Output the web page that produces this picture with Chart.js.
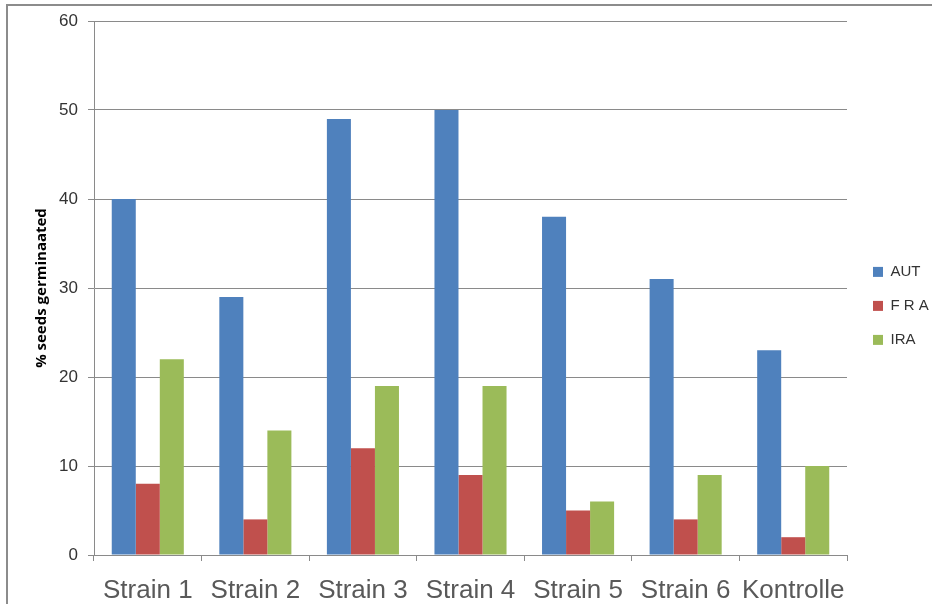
<!DOCTYPE html>
<html>
<head>
<meta charset="utf-8">
<script src="https://cdn.jsdelivr.net/npm/chart.js@4/dist/chart.umd.min.js"></script>
<style>
  html, body { margin: 0; padding: 0; background: #fff; overflow: hidden; }
  #wrap { position: relative; width: 932px; height: 604px; }
  #germChart { display: block; }
  #frame { position: absolute; left: 6px; top: 4px; right: 0; bottom: 0;
           border-left: 2px solid #8c8c8c; border-top: 2px solid #8c8c8c; pointer-events: none; }
</style>
</head>
<body>
<div id="wrap">
  <canvas id="germChart" width="932" height="604"></canvas>
  <div id="frame"></div>
</div>
<script>
const strains = ['Strain 1', 'Strain 2', 'Strain 3', 'Strain 4', 'Strain 5', 'Strain 6', 'Kontrolle'];
const autValues = [40, 29, 49, 50, 38, 31, 23];
const fraValues = [8, 4, 12, 9, 5, 4, 2];
const iraValues = [22, 14, 19, 19, 6, 9, 10];
const yTicks = [0, 10, 20, 30, 40, 50, 60];

const gridGray = '#8a8a8a';
const sans = '"Liberation Sans", Arial, sans-serif';

const ctx = document.getElementById('germChart').getContext('2d');
const germChart = new Chart(ctx, {
    type: 'bar',
    data: {
        labels: strains,
        datasets: [
            { label: 'AUT', data: autValues, backgroundColor: '#4F81BD' },
            { label: 'F R A', data: fraValues, backgroundColor: '#C0504D' },
            { label: 'IRA', data: iraValues, backgroundColor: '#9BBB59' }
        ]
    },
    options: {
        responsive: false,
        animation: false,
        layout: { padding: { top: 21, right: 0, bottom: 0, left: 8 } },
        datasets: { bar: { categoryPercentage: 0.67, barPercentage: 1.0 } },
        plugins: {
            tooltip: { enabled: false },
            legend: {
                position: 'right',
                align: 'start',
                maxWidth: 78,
                // blank title only used to push the items down to mid height
                title: { display: true, text: '', font: { size: 12 }, padding: { top: 0, bottom: 210 } },
                labels: {
                    boxWidth: 10,
                    boxHeight: 10,
                    padding: 19,
                    color: '#333',
                    font: { family: sans, size: 15 }
                }
            }
        },
        scales: {
            x: {
                grid: { display: true, drawOnChartArea: false, drawTicks: true, tickLength: 6, color: gridGray, offset: true },
                border: { color: gridGray },
                ticks: {
                    color: '#595959',
                    padding: 14,
                    maxRotation: 0,
                    font: { family: sans, size: 26 }
                },
                afterFit: (s) => { s.height = 49; }
            },
            y: {
                min: 0,
                max: 60,
                afterBuildTicks: (s) => { s.ticks = yTicks.map(v => ({ value: v })); },
                grid: { color: gridGray, tickLength: 6 },
                border: { color: gridGray },
                ticks: {
                    color: '#333',
                    padding: 10,
                    font: { family: sans, size: 17 }
                },
                title: {
                    display: true,
                    text: '% seeds germinaated',
                    color: '#000',
                    padding: { top: 25, bottom: 0 },
                    font: { family: '"Open Sans", "Liberation Sans", sans-serif', size: 15, weight: 'bold' }
                },
                afterFit: (s) => { s.width = 86; }
            },
            // empty spacer between plot and legend
            gap: {
                position: 'right',
                display: true,
                grid: { display: false },
                border: { display: false },
                ticks: { display: false },
                afterFit: (s) => { s.width = 7; }
            }
        }
    }
});
</script>
</body>
</html>
